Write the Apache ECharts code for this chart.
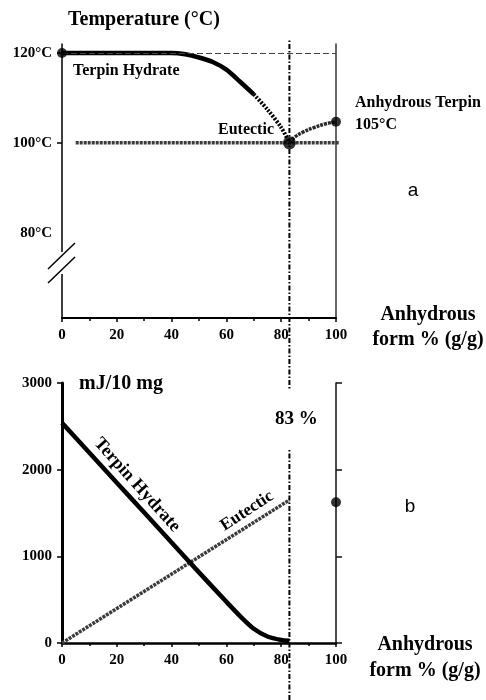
<!DOCTYPE html>
<html><head><meta charset="utf-8">
<script src="https://cdn.jsdelivr.net/npm/echarts@6/dist/echarts.min.js"></script>
<style>html,body{margin:0;padding:0;background:#fff}#c{width:486px;height:700px}</style>
</head><body><div id="c"></div><script>
// ---- data (top panel a: temperature °C vs anhydrous form %) ----
const hydrateTopSolid = [[0,120],[10,120],[20,120],[30,120],[40,120],[45,119.7],[50,119],[55,118],[60,116.3],[65,113.6],[70,110.8]];
const hydrateTopHatched = [[70,110.8],[75,107.4],[80,103.4],[83,100]];
const anhydrousTop = [[83,100],[85,101.3],[88,102.4],[92,103.4],[96,104.2],[100,104.7]];
const eutecticTop = [[5,100],[101,100]];
const topPoints = [[0,120],[100,104.7]];
const eutecticPoint = [[83,100]];
const topYTicks = [80,100,120];
// ---- data (bottom panel b: mJ/10 mg vs anhydrous form %) ----
const hydrateBottom = [[0,2540],[10,2195],[20,1850],[30,1505],[40,1160],[50,815],[60,475],[65,310],[70,165],[75,75],[80,35],[83,25]];
const eutecticBottom = [[0,0],[83,1650]];
const bottomPoint = [[100,1625]];
const eutecticX = 83;

const serif = '"Liberation Serif", "Times New Roman", serif';
const F = (s) => 'bold ' + s + 'px ' + serif;
const chart = echarts.init(document.getElementById('c'), null, {renderer:'canvas'});

const xAxisCommon = (g) => ({
  gridIndex: g, type: 'value', min: 0, max: 100, interval: 20,
  axisLine: {lineStyle: {color: '#000', width: 2}},
  axisTick: {show: true, length: 4, lineStyle: {color: '#000', width: 1.5}},
  minorTick: {show: true, splitNumber: 2, length: 3, lineStyle: {color: '#000', width: 1.5}},
  splitLine: {show: false},
  axisLabel: {color: '#000', fontFamily: serif, fontWeight: 'bold', fontSize: 15, margin: 10}
});

const option = {
  animation: false,
  backgroundColor: '#fff',
  grid: [
    {left: 62, width: 274, top: 44, height: 274},
    {left: 62, width: 274, top: 383, height: 260},
    {left: 62, width: 274, top: 40, height: 660}
  ],
  xAxis: [
    xAxisCommon(0),
    Object.assign(xAxisCommon(1), {axisLine: {lineStyle: {color: '#000', width: 2.5}}}),
    {gridIndex: 2, type: 'value', min: 0, max: 100, show: false}
  ],
  yAxis: [
    {gridIndex: 0, type: 'value', min: 61, max: 122, position: 'left',
      axisLine: {show: true, lineStyle: {color: '#000', width: 1.5}},
      axisTick: {show: true, length: 5, customValues: [100,120], lineStyle: {color: '#000', width: 1.5}},
      splitLine: {show: false},
      axisLabel: {customValues: topYTicks, formatter: '{value}°C', color: '#000', fontFamily: serif, fontWeight: 'bold', fontSize: 15, margin: 10}},
    {gridIndex: 0, type: 'value', min: 61, max: 122, position: 'right',
      axisLine: {show: true, lineStyle: {color: '#333', width: 1.5}},
      axisTick: {show: false}, axisLabel: {show: false}, splitLine: {show: false}},
    {gridIndex: 1, type: 'value', min: 0, max: 3000, interval: 1000, position: 'left',
      axisLine: {show: true, lineStyle: {color: '#000', width: 3}},
      axisTick: {show: true, length: 5, lineStyle: {color: '#000', width: 1.5}},
      splitLine: {show: false},
      axisLabel: {formatter: (v) => String(v), color: '#000', fontFamily: serif, fontWeight: 'bold', fontSize: 15, margin: 10}},
    {gridIndex: 1, type: 'value', min: 0, max: 3000, interval: 1000, position: 'right',
      axisLine: {show: true, lineStyle: {color: '#111', width: 1.5}},
      axisTick: {show: true, inside: false, length: 6, lineStyle: {color: '#111', width: 1.5}},
      axisLabel: {show: false}, splitLine: {show: false}},
    {gridIndex: 2, type: 'value', min: 0, max: 1, show: false}
  ],
  series: [
    // vertical eutectic composition line across both panels
    {type: 'line', xAxisIndex: 2, yAxisIndex: 4, data: [[eutecticX,0],[eutecticX,1]], symbol: 'none', z: 1,
      lineStyle: {color: '#000', width: 2, type: [5,2,1.5,2]}},
    // top panel
    {type: 'line', xAxisIndex: 0, yAxisIndex: 0, data: eutecticTop, symbol: 'none', clip: false, z: 3,
      lineStyle: {color: '#3c3c3c', width: 3.5, type: [3,1]},
      markLine: {silent: true, symbol: 'none', label: {show: false},
        lineStyle: {color: '#444', width: 1, type: [6,3]}, data: [{yAxis: 120}]}},
    {type: 'line', xAxisIndex: 0, yAxisIndex: 0, data: hydrateTopSolid, symbol: 'none', smooth: 0.3, z: 4,
      lineStyle: {color: '#000', width: 4.5}},
    {type: 'line', xAxisIndex: 0, yAxisIndex: 0, data: hydrateTopHatched, symbol: 'none', smooth: 0.3, z: 4,
      lineStyle: {color: '#000', width: 4, type: [2,1.5]}},
    {type: 'line', xAxisIndex: 0, yAxisIndex: 0, data: anhydrousTop, symbol: 'none', smooth: 0.4, z: 4,
      lineStyle: {color: '#2a2a2a', width: 3.5, type: [3,1]}},
    {type: 'scatter', xAxisIndex: 0, yAxisIndex: 0, data: topPoints, symbolSize: 10, clip: false, z: 5,
      itemStyle: {color: '#000'}},
    {type: 'scatter', xAxisIndex: 0, yAxisIndex: 0, data: eutecticPoint, symbolSize: 13, clip: false, z: 5,
      itemStyle: {color: '#000'}},
    // bottom panel
    {type: 'line', xAxisIndex: 1, yAxisIndex: 2, data: eutecticBottom, symbol: 'none', z: 3,
      lineStyle: {color: '#3c3c3c', width: 3.5, type: [3,1]}},
    {type: 'line', xAxisIndex: 1, yAxisIndex: 2, data: hydrateBottom, symbol: 'none', smooth: 0.25, z: 4,
      lineStyle: {color: '#000', width: 4.5}},
    {type: 'scatter', xAxisIndex: 1, yAxisIndex: 2, data: bottomPoint, symbolSize: 10, clip: false, z: 5,
      itemStyle: {color: '#000'}}
  ]
};
chart.setOption(option);

// axis-break marks on the top y axis, placed through the axis scale
const b1 = chart.convertToPixel({xAxisIndex: 0, yAxisIndex: 0}, [0, 74.8]);
const b2 = chart.convertToPixel({xAxisIndex: 0, yAxisIndex: 0}, [0, 71.7]);
const slash = (p) => ({type: 'line', z: 50, shape: {x1: p[0]-14, y1: p[1]+13, x2: p[0]+13, y2: p[1]-13},
  style: {stroke: '#000', lineWidth: 1.5}});
const T = (text, x, y, size, extra) => Object.assign({type: 'text', z: 60, x: x, y: y,
  style: Object.assign({text: text, x: 0, y: 0, font: F(size), fill: '#000', align: 'left', verticalAlign: 'middle'}, (extra && extra.style) || {})},
  extra ? {rotation: extra.rotation || 0} : {});

chart.setOption({graphic: [
  {type: 'rect', z: 49, shape: {x: b1[0]-2, y: b2[1]+4, width: 4, height: (b1[1]-b2[1]) - 8 + 0}, style: {fill: '#fff'}},
  slash(b1), slash(b2),
  T('Temperature (°C)', 68, 20, 20),
  T('Terpin Hydrate', 73, 71, 16),
  T('Eutectic', 218, 130, 16),
  T('Anhydrous Terpin', 355, 103, 16),
  T('105°C', 355, 125, 16),
  {type: 'text', z: 60, x: 413, y: 191, style: {text: 'a', x: 0, y: 0, font: '19px "Liberation Sans", Arial, sans-serif', fill: '#000', align: 'center', verticalAlign: 'middle'}},
  T('Anhydrous', 428, 315, 20, {style: {align: 'center'}}),
  T('form % (g/g)', 428, 340, 20, {style: {align: 'center'}}),
  T('mJ/10 mg', 79, 384, 20),
  T('83 %', 273, 419, 19, {style: {backgroundColor: '#fff', padding: [20, 2, 20, 2]}}),
  T('Terpin Hydrate', 137, 485, 18, {rotation: -48 * Math.PI / 180, style: {align: 'center'}}),
  T('Eutectic', 247, 511, 17, {rotation: 33 * Math.PI / 180, style: {align: 'center'}}),
  {type: 'text', z: 60, x: 410, y: 507, style: {text: 'b', x: 0, y: 0, font: '19px "Liberation Sans", Arial, sans-serif', fill: '#000', align: 'center', verticalAlign: 'middle'}},
  T('Anhydrous', 425, 645, 20, {style: {align: 'center'}}),
  T('form % (g/g)', 425, 671, 20, {style: {align: 'center'}})
]});
</script></body></html>
